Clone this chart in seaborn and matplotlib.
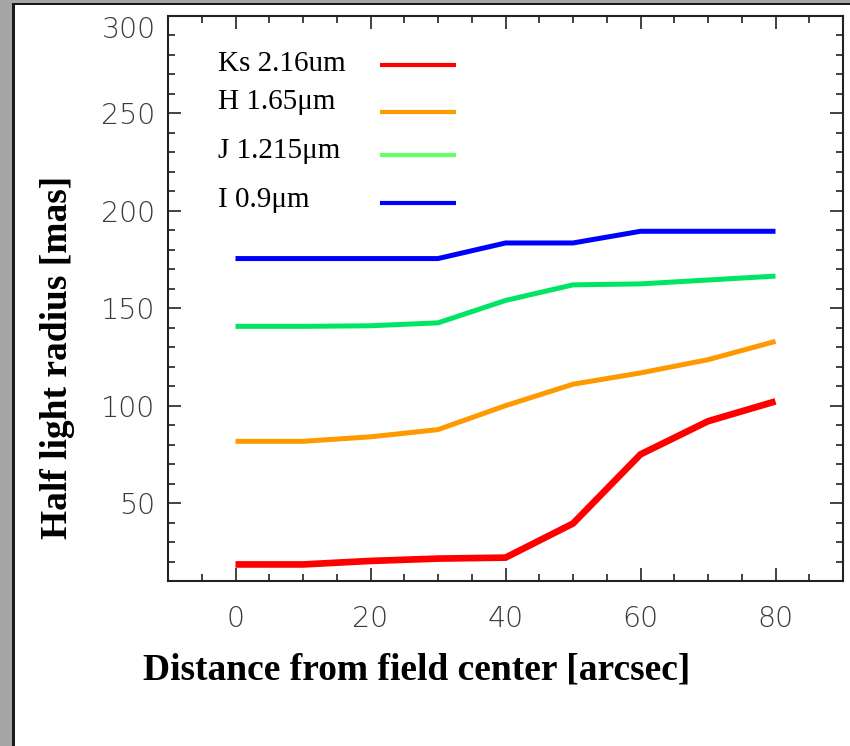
import matplotlib
matplotlib.use("Agg")
import matplotlib.pyplot as plt
import seaborn as sns
import pandas as pd
from matplotlib.patches import Rectangle
from matplotlib.ticker import MultipleLocator, FixedLocator

# ---- data ----
distance = [0, 10, 20, 30, 40, 50, 60, 70, 80]
ks_radius = [18.5, 18.5, 20.3, 21.5, 22.0, 39.5, 75.0, 92.0, 102.2]
h_radius = [81.7, 81.7, 84.0, 87.7, 100.0, 111.0, 116.8, 123.6, 133.0]
j_radius = [140.7, 140.7, 141.0, 142.5, 154.0, 162.0, 162.5, 164.5, 166.5]
i_radius = [175.5, 175.5, 175.5, 175.5, 183.5, 183.5, 189.5, 189.5, 189.5]
band_labels = ["Ks 2.16um", "H 1.65\u03bcm", "J 1.215\u03bcm", "I 0.9\u03bcm"]
x_ticks = [0, 20, 40, 60, 80]
y_ticks = [50, 100, 150, 200, 250, 300]

line_colors = ["#ff0000", "#ff9900", "#00e664", "#0000ff"]
legend_colors = ["#ff0000", "#ff9900", "#66ff66", "#0000ff"]
line_widths = [4.8, 3.6, 3.6, 3.6]

df = pd.DataFrame({
    "distance": distance * 4,
    "radius": ks_radius + h_radius + j_radius + i_radius,
    "band": [b for b in band_labels for _ in distance],
})

sns.set_theme(style="ticks")
plt.rcParams["font.family"] = ["DejaVu Sans"]

fig = plt.figure(figsize=(8.5, 7.46), dpi=100)
fig.patch.set_facecolor("white")
W, H = 850.0, 746.0
AX_L, AX_R, AX_T, AX_B = 168.0, 843.0, 16.0, 581.0
AW, AH = AX_R - AX_L, AX_B - AX_T
ax = fig.add_axes([AX_L / W, 1 - AX_B / H, AW / W, AH / H])
ax.set_facecolor("white")

for band, col, lw in zip(band_labels, line_colors, line_widths):
    sns.lineplot(data=df[df["band"] == band], x="distance", y="radius",
                 color=col, linewidth=lw, ax=ax, legend=False,
                 solid_capstyle="butt", solid_joinstyle="miter")

ax.set_xlim(-10, 90)
ax.set_ylim(10, 300)
ax.xaxis.set_major_locator(FixedLocator(x_ticks))
ax.yaxis.set_major_locator(FixedLocator(y_ticks))
ax.xaxis.set_minor_locator(MultipleLocator(5))
ax.yaxis.set_minor_locator(MultipleLocator(10))
ax.set_xticklabels([str(v) for v in x_ticks])
ax.set_yticklabels([str(v) for v in y_ticks])

tick_color = "#222222"
ax.tick_params(which="both", direction="in", top=True, right=True,
               color=tick_color, width=1.2)
ax.tick_params(which="major", length=9.5)
ax.tick_params(which="minor", length=5)
ax.tick_params(axis="x", which="major", pad=17)
ax.tick_params(axis="y", which="major", pad=9)
for lab in ax.get_xticklabels() + ax.get_yticklabels():
    lab.set_fontsize(20.5)
    lab.set_fontweight("light")
    lab.set_color("#3a3a3a")
# top label sits just below its tick, as in the reference
ax.get_yticklabels()[-1].set_va("top")
for sp in ax.spines.values():
    sp.set_linewidth(1.5)
    sp.set_color(tick_color)

serif = ["Liberation Serif", "DejaVu Serif"]
ax.set_xlabel("Distance from field center [arcsec]", fontsize=27,
              fontweight="bold", family=serif, color="black")
ax.set_ylabel("Half light radius [mas]", fontsize=27,
              fontweight="bold", family=serif, color="black")
ax.xaxis.set_label_coords((417 - AX_L) / AW, -(652 - AX_B) / AH)
ax.yaxis.set_label_coords(-(AX_L - 75) / AW, 1 - (357 - AX_T) / AH)


def fx(px):
    return (px - AX_L) / AW


def fy(py):
    return 1 - (py - AX_T) / AH


# legend drawn as in the reference: labels left-aligned, sample lines in a column
text_baselines = [70.7, 109.3, 157.7, 207.0]
line_centres = [64.7, 111.7, 155.0, 203.0]
for lab, col, tb, lc in zip(band_labels, legend_colors, text_baselines, line_centres):
    ax.text(fx(218), fy(tb), lab, transform=ax.transAxes, ha="left",
            va="baseline", family=serif, fontsize=21, color="black")
    ax.plot([fx(380), fx(456)], [fy(lc), fy(lc)], transform=ax.transAxes,
            color=col, linewidth=3.0, solid_capstyle="butt", clip_on=False)

# screenshot window border (grey frame at left and top)
fig.add_artist(Rectangle((0, 0), 12 / W, 1, transform=fig.transFigure,
                         facecolor="#a6a6a6", edgecolor="none"))
fig.add_artist(Rectangle((0, 1 - 3 / H), 1, 3 / H, transform=fig.transFigure,
                         facecolor="#a6a6a6", edgecolor="none"))
fig.add_artist(Rectangle((12 / W, 0), 3 / W, 1 - 3 / H, transform=fig.transFigure,
                         facecolor="#1a1a1a", edgecolor="none"))
fig.add_artist(Rectangle((12 / W, 1 - 5 / H), 1, 2 / H, transform=fig.transFigure,
                         facecolor="#1a1a1a", edgecolor="none"))

fig.savefig("out.png", dpi=100, facecolor="white")
